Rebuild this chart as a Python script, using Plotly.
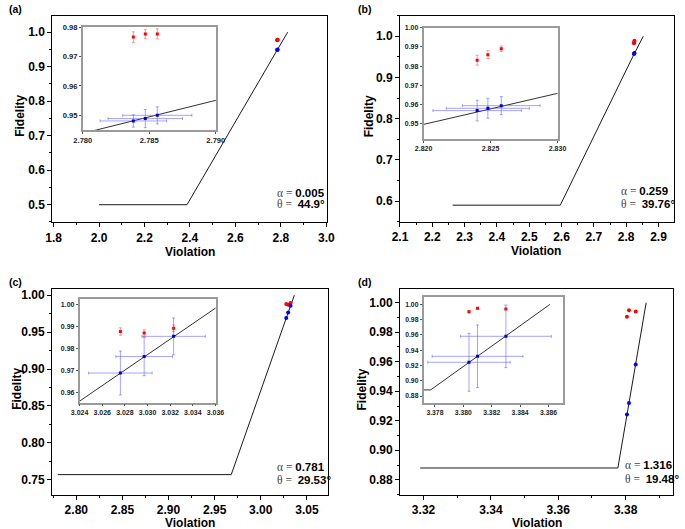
import plotly.graph_objects as go

W, H = 685, 529

# ---- data ----
# panel (a)
a_viol = [2.7838, 2.7847, 2.7856]
a_viol_err = [0.0025, 0.0028, 0.0026]
a_fid_red = [0.9766, 0.9777, 0.9777]
a_red_err = [0.0018, 0.0015, 0.0017]
a_fid_blue = [0.9481, 0.9489, 0.9500]
a_blue_err = [0.0021, 0.0031, 0.0029]
a_line_x = [2.0, 2.387, 2.781, 2.790, 2.830]
a_line_y = [0.5, 0.5, 0.945, 0.9551, 1.0]

# panel (b)
b_viol = [2.8240, 2.8248, 2.8258]
b_viol_err = [0.0033, 0.0031, 0.0029]
b_fid_red = [0.9831, 0.9860, 0.9891]
b_red_err = [0.0026, 0.0020, 0.0014]
b_fid_blue = [0.9568, 0.9580, 0.9594]
b_blue_err = [0.0054, 0.0052, 0.0047]
b_line_x = [2.263, 2.596, 2.820, 2.830, 2.853]
b_line_y = [0.59, 0.59, 0.9496, 0.9658, 1.0]

# panel (c)
c_viol = [3.0276, 3.0297, 3.0323]
c_viol_err = [0.0028, 0.0025, 0.0028]
c_fid_red = [0.9879, 0.9872, 0.9894]
c_red_err = [0.0017, 0.0015, 0.0015]
c_fid_blue = [0.9690, 0.9765, 0.9857]
c_blue_err = [0.0100, 0.0087, 0.0084]
c_line_x = [2.780, 2.968, 3.024, 3.036, 3.0364]
c_line_y = [0.757, 0.757, 0.9562, 0.9989, 1.0]

# panel (d)
d_viol = [3.3804, 3.3810, 3.3830]
d_viol_err = [0.0029, 0.0032, 0.0032]
d_fid_red = [0.9905, 0.9948, 0.9940]
d_red_err = [0.0015, 0.0006, 0.0008]
d_fid_blue = [0.9242, 0.9320, 0.9582]
d_blue_err = [0.038, 0.041, 0.041]
d_line_x = [3.319, 3.3777, 3.3861]
d_line_y = [0.888, 0.888, 1.0]

alphas = ["0.005", "0.259", "0.781", "1.316"]
thetas = ["44.9°", "39.76°", "29.53°", "19.48°"]
labels = ["(a)", "(b)", "(c)", "(d)"]

panels = [
    (a_viol, a_viol_err, a_fid_red, a_red_err, a_fid_blue, a_blue_err, a_line_x, a_line_y),
    (b_viol, b_viol_err, b_fid_red, b_red_err, b_fid_blue, b_blue_err, b_line_x, b_line_y),
    (c_viol, c_viol_err, c_fid_red, c_red_err, c_fid_blue, c_blue_err, c_line_x, c_line_y),
    (d_viol, d_viol_err, d_fid_red, d_red_err, d_fid_blue, d_blue_err, d_line_x, d_line_y),
]

# ---- layout in pixels ----
# main axes: (left, right, top, bottom), x range, y range, x dtick, y dtick, formats
main_boxes = [
    ((43.5, 327, 11.7, 220), [1.794, 3.005], [0.449, 1.048], 0.2, 0.1, ".1f", ".1f"),
    ((401.7, 684.3, 11.7, 219.3), [2.1, 2.949], [0.55, 1.05], 0.1, 0.1, ".1f", ".1f"),
    ((43.3, 327.3, 286.7, 494.3), [2.7737, 3.0726], [0.730, 1.009], 0.05, 0.05, ".2f", ".2f"),
    ((401.7, 682.7, 286.7, 494.3), [3.313, 3.394], [0.870, 1.0096], 0.02, 0.02, ".2f", ".2f"),
]
# inset axes: same fields plus tick font size
inset_boxes = [
    ((75, 212, 23.3, 127), [2.780, 2.790], [0.945, 0.980], 0.005, 0.01, ".3f", ".2f", 7.6),
    ((426, 564, 24, 136), [2.820, 2.830], [0.942, 1.0], 0.005, 0.01, ".3f", ".2f", 7),
    ((71.7, 211.7, 297.3, 401.7), [3.024, 3.036], [0.9555, 1.0027], 0.002, 0.01, ".3f", ".2f", 7),
    ((426, 569.3, 295, 402.3), [3.3772, 3.3870], [0.8705, 1.01], 0.002, 0.02, ".3f", ".2f", 6.8),
]
stat_pos = [(272.5, 190, 202), (627, 188.5, 202), (272.5, 466.5, 480), (631.5, 464.5, 478.5)]
fid_pos = [(10, 113), (370, 113), (7, 388), (363, 388)]
viol_pos = [(185, 250), (542, 249), (185, 523), (543, 523)]
lab_pos = [(6, 5), (365, 5), (6, 280), (365, 280)]


def dx(l, r):
    return [l / W, r / W]


def dy(t, b):
    return [1 - b / H, 1 - t / H]


fig = go.Figure()
layout = {}
BLUE = "#0000ff"
RED = "#ff0000"
SANS = "Liberation Sans, Arial"

for i, (viol, verr, fred, rerr, fblue, berr, lx, ly) in enumerate(panels):
    m = i + 1
    n = i + 5
    # main panel
    fig.add_trace(go.Scatter(x=lx, y=ly, mode="lines", line=dict(color="#1a1a1a", width=1),
                             xaxis=f"x{m}", yaxis=f"y{m}", showlegend=False))
    fig.add_trace(go.Scatter(x=viol, y=fred, mode="markers", xaxis=f"x{m}", yaxis=f"y{m}",
                             marker=dict(color=RED, size=4), showlegend=False))
    fig.add_trace(go.Scatter(x=viol, y=fblue, mode="markers", xaxis=f"x{m}", yaxis=f"y{m}",
                             marker=dict(color=BLUE, size=4), showlegend=False))
    # inset
    fig.add_trace(go.Scatter(x=lx, y=ly, mode="lines", line=dict(color="#1a1a1a", width=0.9),
                             xaxis=f"x{n}", yaxis=f"y{n}", showlegend=False))
    fig.add_trace(go.Scatter(x=viol, y=fred, mode="markers", xaxis=f"x{n}", yaxis=f"y{n}",
                             marker=dict(color=RED, size=3, symbol="square"),
                             error_y=dict(type="data", array=rerr, color="rgba(255,90,90,0.6)",
                                          thickness=1, width=1.5),
                             showlegend=False))
    fig.add_trace(go.Scatter(x=viol, y=fblue, mode="markers", xaxis=f"x{n}", yaxis=f"y{n}",
                             marker=dict(color="#0000c8", size=3, symbol="square"),
                             error_x=dict(type="data", array=verr, color="rgba(90,90,255,0.55)",
                                          thickness=1, width=1.5),
                             error_y=dict(type="data", array=berr, color="rgba(90,90,255,0.55)",
                                          thickness=1, width=1.5),
                             showlegend=False))

    (l, r, t, b), xr, yr, xdt, ydt, xf, yf = main_boxes[i]
    tf = dict(family=SANS, size=12, color="black", weight="bold")
    layout[f"xaxis{m}"] = dict(domain=dx(l, r), range=xr, anchor=f"y{m}", dtick=xdt, tick0=0,
                               tickformat=xf, showline=True, mirror=True, linecolor="black",
                               linewidth=1, ticks="outside", ticklen=4, tickcolor="black",
                               minor=dict(ticks="outside", ticklen=2, dtick=xdt / 2, tickcolor="black"),
                               showgrid=False, zeroline=False, tickfont=tf)
    layout[f"yaxis{m}"] = dict(domain=dy(t, b), range=yr, anchor=f"x{m}", dtick=ydt, tick0=0,
                               tickformat=yf, showline=True, mirror=True, linecolor="black",
                               linewidth=1, ticks="outside", ticklen=4, tickcolor="black",
                               minor=dict(ticks="outside", ticklen=2, dtick=ydt / 2, tickcolor="black"),
                               showgrid=False, zeroline=False, tickfont=tf)

    (l, r, t, b), xr, yr, xdt, ydt, xf, yf, fs = inset_boxes[i]
    itf = dict(family=SANS, size=fs, color="#222", weight="bold")
    layout[f"xaxis{n}"] = dict(domain=dx(l, r), range=xr, anchor=f"y{n}", dtick=xdt, tick0=0,
                               tickformat=xf, showline=True, mirror=True, linecolor="#9a9a9a",
                               linewidth=1.5, ticks="outside", ticklen=2, tickcolor="#555",
                               showgrid=False, zeroline=False, tickfont=itf)
    layout[f"yaxis{n}"] = dict(domain=dy(t, b), range=yr, anchor=f"x{n}", dtick=ydt, tick0=0,
                               tickformat=yf, showline=True, mirror=True, linecolor="#9a9a9a",
                               linewidth=1.5, ticks="outside", ticklen=2, tickcolor="#555",
                               showgrid=False, zeroline=False, tickfont=itf)

annotations = []
for i in range(4):
    sx, ya, yt = stat_pos[i]
    annotations.append(dict(x=sx / W, y=1 - ya / H, xref="paper", yref="paper", xanchor="left",
                            yanchor="middle", showarrow=False,
                            text=f"<span style='color:#444'>α = </span>"
                                 f"<b><span style='font-family:Liberation Sans'>{alphas[i]}</span></b>",
                            font=dict(family="Liberation Serif", size=11.5, color="black")))
    annotations.append(dict(x=sx / W, y=1 - yt / H, xref="paper", yref="paper", xanchor="left",
                            yanchor="middle", showarrow=False,
                            text=f"<span style='color:#444'>θ = </span> "
                                 f"<b><span style='font-family:Liberation Sans'>{thetas[i]}</span></b>",
                            font=dict(family="Liberation Serif", size=11.5, color="black")))
    fx, fy = fid_pos[i]
    annotations.append(dict(x=fx / W, y=1 - fy / H, xref="paper", yref="paper", showarrow=False,
                            text="<b>Fidelity</b>", textangle=-90, xanchor="center", yanchor="middle",
                            font=dict(family=SANS, size=12, color="black")))
    vx, vy = viol_pos[i]
    annotations.append(dict(x=vx / W, y=1 - vy / H, xref="paper", yref="paper", showarrow=False,
                            text="<b>Violation</b>", xanchor="center", yanchor="middle",
                            font=dict(family=SANS, size=12, color="black")))
    lx_, ly_ = lab_pos[i]
    annotations.append(dict(x=lx_ / W, y=1 - ly_ / H, xref="paper", yref="paper", showarrow=False,
                            text=f"<b>{labels[i]}</b>", xanchor="center", yanchor="middle",
                            font=dict(family=SANS, size=10.5, color="black")))

fig.update_layout(width=W, height=H, margin=dict(l=0, r=0, t=0, b=0),
                  paper_bgcolor="white", plot_bgcolor="white",
                  annotations=annotations, **layout)

fig.write_html("out.html", config={"displayModeBar": False},
               post_script="document.body.style.margin='0';")
